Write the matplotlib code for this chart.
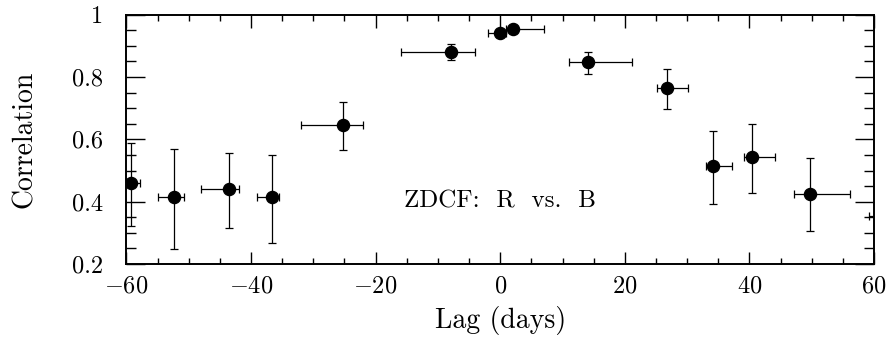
import numpy as np
import matplotlib
matplotlib.use('Agg')
import matplotlib.pyplot as plt
from matplotlib.ticker import MultipleLocator

# fuente tipo Computer Modern para parecerse al original
plt.rcParams['font.family'] = 'serif'
plt.rcParams['font.serif'] = ['cmr10']
plt.rcParams['mathtext.fontset'] = 'cm'
plt.rcParams['axes.formatter.use_mathtext'] = True

# datos (ZDCF R vs B)
lag = [-59.3, -52.4, -43.5, -36.7, -25.3, -7.9, 0.0, 2.0, 14.1, 26.8, 34.2, 40.5, 49.8, 62.0]
corr = [0.461, 0.416, 0.441, 0.415, 0.646, 0.881, 0.942, 0.954, 0.847, 0.765, 0.514, 0.544, 0.426, 0.354]
corr_lo = [0.139, 0.167, 0.126, 0.147, 0.081, 0.027, 0.010, 0.008, 0.037, 0.068, 0.121, 0.116, 0.119, 0.100]
corr_hi = [0.126, 0.154, 0.116, 0.136, 0.073, 0.026, 0.010, 0.008, 0.032, 0.061, 0.114, 0.104, 0.114, 0.100]
lag_lo = [2.0, 2.5, 4.5, 2.3, 6.7, 8.1, 1.9, 1.0, 3.1, 1.7, 1.1, 1.4, 2.7, 2.8]
lag_hi = [1.5, 1.6, 1.6, 1.2, 3.3, 3.8, 1.0, 5.1, 7.0, 3.3, 3.0, 3.6, 6.3, 1.0]

fig = plt.figure(figsize=(8.95, 3.45), dpi=100)
ax = fig.add_axes([0.1413, 0.2348, 0.8352, 0.7226])

ax.errorbar(lag, corr, yerr=[corr_lo, corr_hi], xerr=[lag_lo, lag_hi],
            fmt='o', color='black', ms=8.7, elinewidth=0.9, capsize=3, capthick=0.9)

ax.set_xlim(-60, 60)
ax.set_ylim(0.2, 1.0)
ax.xaxis.set_major_locator(MultipleLocator(20))
ax.xaxis.set_minor_locator(MultipleLocator(5))
ax.yaxis.set_major_locator(MultipleLocator(0.2))
ax.yaxis.set_minor_locator(MultipleLocator(0.05))
ax.yaxis.set_major_formatter(plt.FuncFormatter(lambda v, p: ('%g' % v)))

ax.tick_params(axis='both', which='both', direction='in', top=True, right=True, width=1.0)
ax.tick_params(axis='x', which='major', length=9, pad=8, labelsize=17.5)
ax.tick_params(axis='x', which='minor', length=4.5)
ax.tick_params(axis='y', which='major', length=14, pad=17, labelsize=17.5)
ax.tick_params(axis='y', which='minor', length=7)
for s in ax.spines.values():
    s.set_linewidth(1.4)

ax.set_xlabel('Lag (days)', fontsize=20, labelpad=6)
ax.set_ylabel('Correlation', fontsize=20, labelpad=24)
ax.text(0, 0.40, 'ZDCF:  R  vs.  B', fontsize=18, ha='center', va='center')

plt.savefig('out.png', dpi=100)
